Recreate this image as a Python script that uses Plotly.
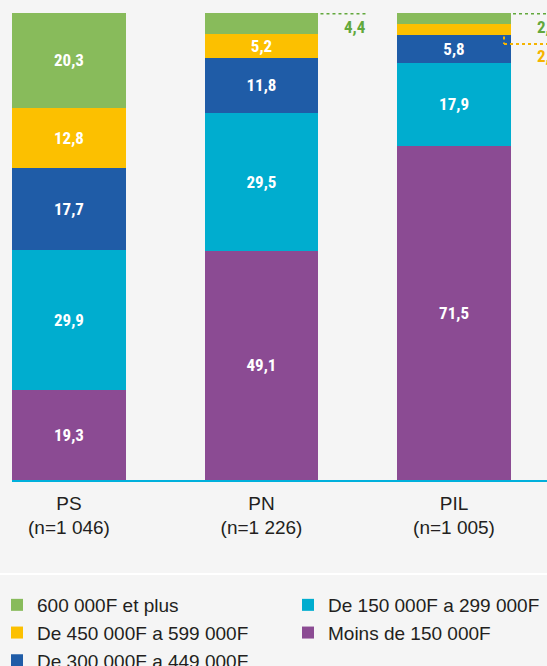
import plotly.graph_objects as go

categories = ["PS<br>(n=1 046)", "PN<br>(n=1 226)", "PIL<br>(n=1 005)"]

series_names = [
    "Moins de 150 000F",
    "De 150 000F a 299 000F",
    "De 300 000F a 449 000F",
    "De 450 000F a 599 000F",
    "600 000F et plus",
]
moins_150 = [19.3, 49.1, 71.5]
de_150_299 = [29.9, 29.5, 17.9]
de_300_449 = [17.7, 11.8, 5.8]
de_450_599 = [12.8, 5.2, 2.4]
plus_600 = [20.3, 4.4, 2.4]

series_values = [moins_150, de_150_299, de_300_449, de_450_599, plus_600]
colors = ["#8b4b93", "#00adcf", "#1f5ca7", "#fcc000", "#88bb5b"]
label_colors = {"De 450 000F a 599 000F": "#f5b400", "600 000F et plus": "#62a83c"}
legend_ref = ["legend2", "legend2", "legend", "legend", "legend"]
legend_rank = [2, 1, 3, 2, 1]

BARGAP = 0.408
HALF = (1 - BARGAP) / 2
MIN_INSIDE = 5

BAR_FONT = "Roboto Condensed, Roboto, Liberation Sans, sans-serif"
TEXT_FONT = "Liberation Sans, Arial, sans-serif"

fig = go.Figure()
for name, vals, col, lg, rk in zip(series_names, series_values, colors, legend_ref, legend_rank):
    fig.add_trace(go.Bar(
        x=categories, y=vals, name=name,
        marker=dict(color=col, line=dict(width=0)),
        texttemplate=["%{y:.1f}" if v >= MIN_INSIDE else "" for v in vals],
        textposition="inside", insidetextanchor="middle", textangle=0,
        textfont=dict(family=BAR_FONT, size=17, color="white", weight="bold"),
        legend=lg, legendrank=rk, hoverinfo="skip",
    ))

def fmt(v):
    return f"{v:.1f}".replace(".", ",")

shapes = []
annotations = []
n = len(categories)
for si, (name, vals) in enumerate(zip(series_names, series_values)):
    for ci in range(n):
        v = vals[ci]
        if v >= MIN_INSIDE:
            continue
        col = label_colors.get(name, colors[si])
        top = sum(series_values[k][ci] for k in range(si + 1))
        bottom = top - v
        edge = ci + HALF
        if si == len(series_names) - 1:
            shapes.append(dict(type="line", xref="x", yref="y", xsizemode="pixel", ysizemode="pixel",
                               xanchor=edge, yanchor=top, x0=2, x1=47, y0=-0.5, y1=-0.5,
                               line=dict(color=col, width=2, dash="dot")))
            annotations.append(dict(xref="x", yref="y", x=edge, y=top, xshift=50, yshift=-14,
                                    xanchor="right", yanchor="middle", showarrow=False,
                                    text=fmt(v), font=dict(family=BAR_FONT, size=17, color=col, weight="bold")))
        else:
            shapes.append(dict(type="line", xref="x", yref="y", xsizemode="pixel", ysizemode="pixel",
                               xanchor=edge, yanchor=bottom, x0=-7, x1=-7, y0=-1, y1=-8.6,
                               line=dict(color=col, width=2, dash="dot")))
            shapes.append(dict(type="line", xref="x", yref="y", xsizemode="pixel", ysizemode="pixel",
                               xanchor=edge, yanchor=bottom, x0=-7, x1=47, y0=-8.6, y1=-8.6,
                               line=dict(color=col, width=2, dash="dot")))
            annotations.append(dict(xref="x", yref="y", x=edge, y=bottom, xshift=50, yshift=-21,
                                    xanchor="right", yanchor="middle", showarrow=False,
                                    text=fmt(v), font=dict(family=BAR_FONT, size=17, color=col, weight="bold")))

# white separator line above legend
shapes.append(dict(type="line", xref="paper", yref="paper", x0=-0.1, x1=1.1,
                   y0=-94 / 467, y1=-94 / 467, line=dict(color="white", width=2), layer="below"))

fig.update_layout(
    width=547, height=666,
    margin=dict(l=12, r=0, t=13, b=186, autoexpand=False),
    paper_bgcolor="#f5f5f5", plot_bgcolor="#f5f5f5",
    barmode="stack", bargap=BARGAP,
    separators=", ",
    showlegend=True,
    uniformtext=dict(minsize=17, mode="show"),
    font=dict(family=TEXT_FONT, color="#231f20"),
    xaxis=dict(type="category", range=[-HALF, 2.483], showline=True, linecolor="#00b0dc",
               linewidth=1.5, ticks="", showgrid=False, zeroline=False, automargin=False,
               ticklabelstandoff=5,
               tickfont=dict(family=TEXT_FONT, size=19, color="#231f20")),
    yaxis=dict(range=[0, 100], visible=False, showgrid=False, zeroline=False),
    legend=dict(xref="paper", yref="paper", x=-15 / 535, y=-106 / 467,
                xanchor="left", yanchor="top", bgcolor="rgba(0,0,0,0)",
                font=dict(family=TEXT_FONT, size=19, color="#231f20"),
                tracegroupgap=0, traceorder="normal"),
    legend2=dict(xref="paper", yref="paper", x=276 / 535, y=-106 / 467,
                 xanchor="left", yanchor="top", bgcolor="rgba(0,0,0,0)",
                 font=dict(family=TEXT_FONT, size=19, color="#231f20"),
                 tracegroupgap=0, traceorder="normal"),
    shapes=shapes, annotations=annotations,
)

fig.write_html("out.html", config={"displayModeBar": False},
               post_script="document.body.style.margin='0';document.body.style.background='#f5f5f5';")
